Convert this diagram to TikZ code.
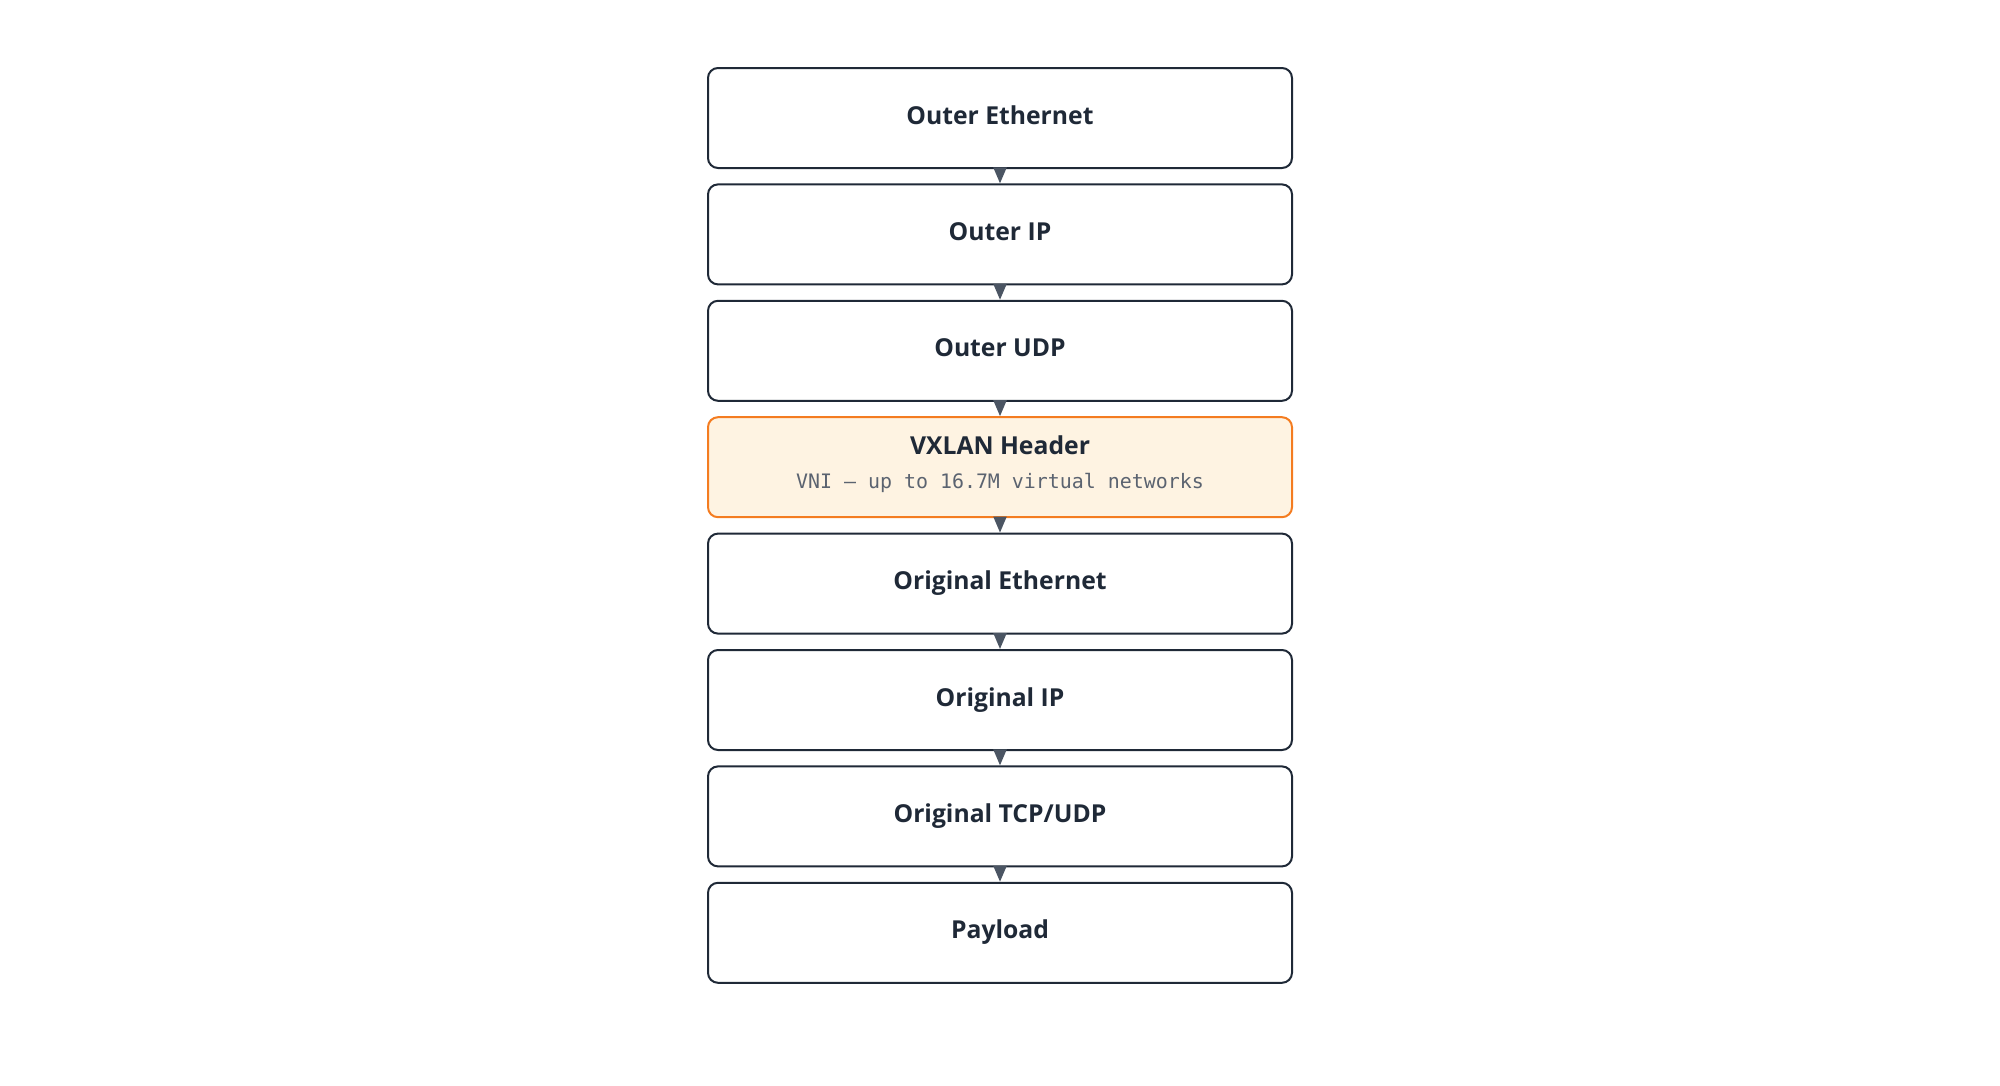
\documentclass[tikz,border=0pt]{standalone}
\usepackage{fontspec}
\setmainfont{Open Sans}
\newfontfamily\codefont{DejaVu Sans Mono}
\usetikzlibrary{positioning,arrows.meta}

\definecolor{edgegray}{HTML}{1F2937}
\definecolor{tipgray}{HTML}{4B5563}
\definecolor{subgray}{HTML}{5B6370}
\definecolor{hdrorange}{HTML}{F47C20}
\definecolor{hdrfill}{HTML}{FEF3E2}

\tikzset{
    box/.style={draw=edgegray, line width=1bp, rounded corners=5bp, fill=white,
        minimum width=292bp, minimum height=50bp, inner sep=0pt,
        text=edgegray, font=\bfseries\fontsize{12.4}{15}\selectfont},
    layer/.style={box, text height=7bp, text depth=1bp},
    vxlan/.style={box, draw=hdrorange, fill=hdrfill, align=center, text depth=5bp},
    arr/.style={draw=tipgray, line width=1bp, -{Triangle[width=6.5bp,length=8bp]}, fill=tipgray}
}

\begin{document}
\begin{tikzpicture}[node distance=7.2bp]
    \useasboundingbox (0,0) rectangle (1000bp,-543bp);
    \node (oeth) [layer] at (500bp,-59bp) {Outer Ethernet};
    \node (oip) [layer, below=of oeth] {Outer IP};
    \node (oudp) [layer, below=of oip] {Outer UDP};
    \node (vx) [vxlan, below=of oudp] {VXLAN Header\\[2bp]{\codefont\mdseries\fontsize{10}{12}\selectfont\color{subgray}VNI — up to 16.7M virtual networks}};
    \node (ieth) [layer, below=of vx] {Original Ethernet};
    \node (iip) [layer, below=of ieth] {Original IP};
    \node (itcp) [layer, below=of iip] {Original TCP/UDP};
    \node (pay) [layer, below=of itcp] {Payload};
    \foreach \a/\b in {oeth/oip, oip/oudp, oudp/vx, vx/ieth, ieth/iip, iip/itcp, itcp/pay}
        \draw [arr] (\a) -- (\b);
\end{tikzpicture}
\end{document}
